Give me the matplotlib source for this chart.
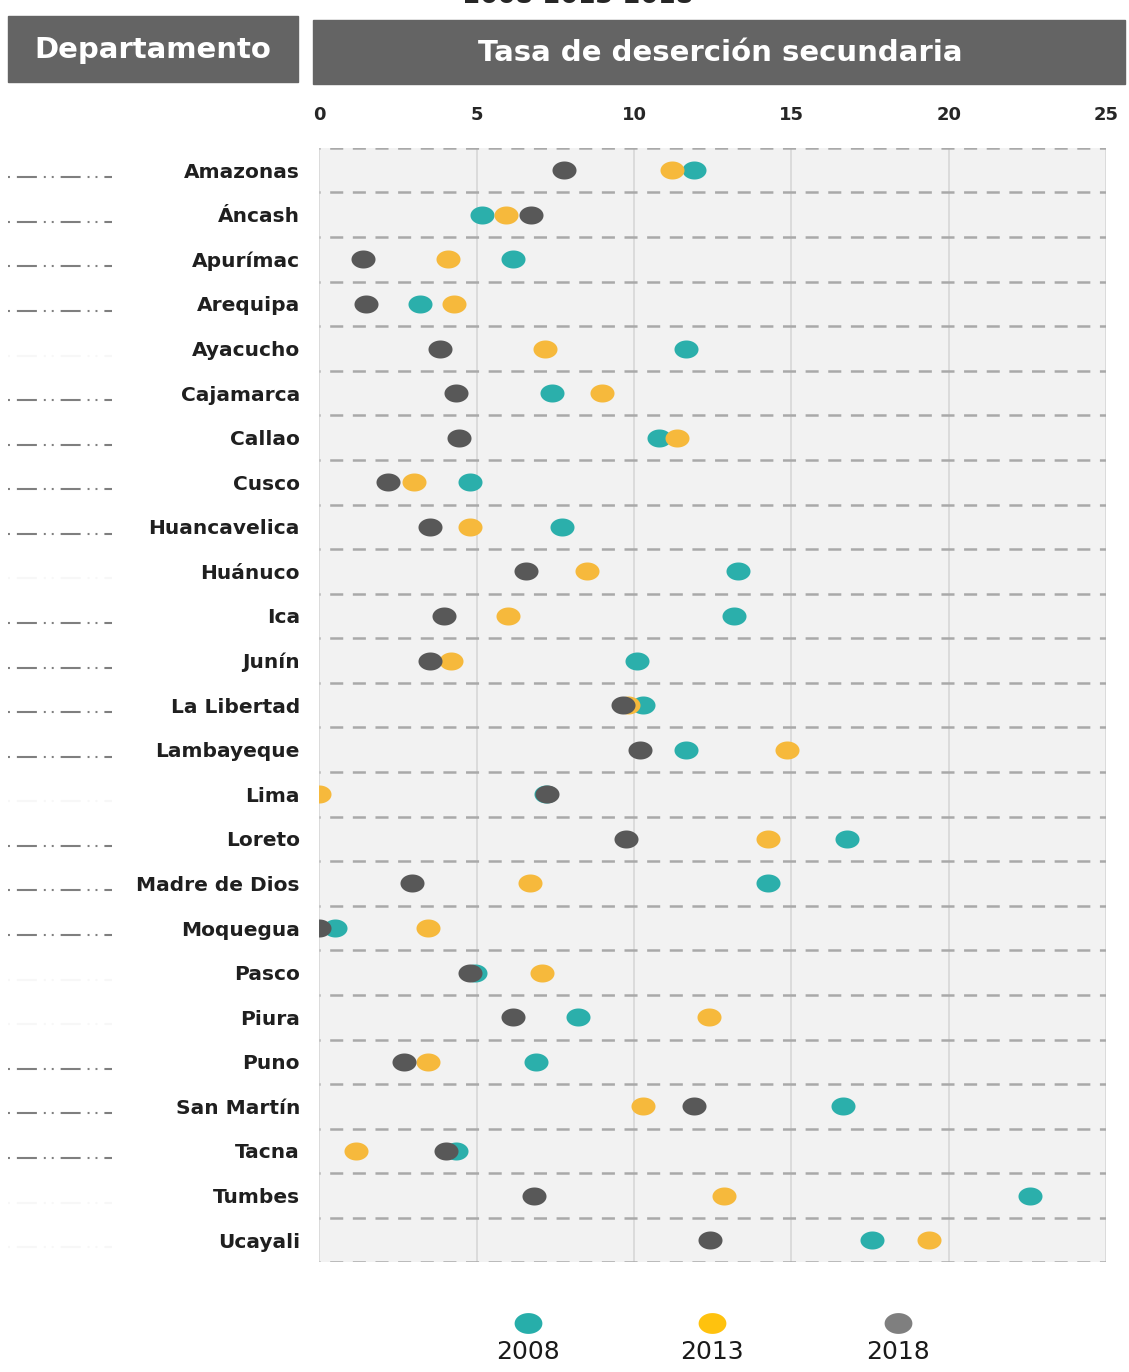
import matplotlib.pyplot as plt
import numpy as np
import matplotlib.transforms as mtransforms
from matplotlib.path import Path
from matplotlib.patches import Rectangle

plt.rcParams['font.family'] = 'DejaVu Sans'
plt.rcParams['lines.scale_dashes'] = False

departamentos = ['Amazonas', 'Áncash', 'Apurímac', 'Arequipa', 'Ayacucho',
                 'Cajamarca', 'Callao', 'Cusco', 'Huancavelica', 'Huánuco',
                 'Ica', 'Junín', 'La Libertad', 'Lambayeque', 'Lima', 'Loreto',
                 'Madre de Dios', 'Moquegua', 'Pasco', 'Piura', 'Puno',
                 'San Martín', 'Tacna', 'Tumbes', 'Ucayali']

tasa_2008 = [11.89, 5.18, 6.16, 3.21, 11.66, 7.39, 10.8, 4.78, 7.7, 13.3,
             13.19, 10.1, 10.3, 11.66, 7.2, 16.76, 14.27, 0.51, 4.95, 8.21,
             6.88, 16.65, 4.34, 22.57, 17.57]
tasa_2013 = [11.2, 5.92, 4.08, 4.28, 7.18, 8.97, 11.36, 3.0, 4.78, 8.5,
             6.0, 4.18, 9.8, 14.87, 0.0, 14.27, 6.68, 3.46, 7.08, 12.38,
             3.46, 10.29, 1.17, 12.86, 19.36]
tasa_2018 = [7.78, 6.72, 1.38, 1.48, 3.82, 4.33, 4.44, 2.19, 3.52, 6.58,
             3.97, 3.52, 9.66, 10.19, 7.23, 9.74, 2.95, 0.0, 4.79, 6.16,
             2.7, 11.92, 4.02, 6.83, 12.42]

anios = ['2008', '2013', '2018']
x_ticks = [0, 5, 10, 15, 20, 25]

# rows whose decorative dash-dot guide is clearly visible on the left
guia_visible = [True, True, True, True, False, True, True, True, True, False,
                True, True, True, True, False, True, True, True, False, False,
                True, True, True, False, False]

col_plot = ['#2BAFAB', '#F6B93C', '#585858']
col_leg = ['#27AEAA', '#FFC20E', '#7F7F7F']

W, H = 1129, 1372
fig = plt.figure(figsize=(W / 100, H / 100), dpi=100)

# elliptical marker (dots are slightly wider than tall)
t = np.linspace(0, 2 * np.pi, 80)
ellipse = Path(np.column_stack([np.cos(t), 0.75 * np.sin(t)]))

top, bottom, left, right = 147.9, 1262.4, 319.4, 1106.0
ax = fig.add_axes([left / W, 1 - bottom / H, (right - left) / W, (bottom - top) / H])
ax.set_facecolor('#F2F2F2')
n = len(departamentos)
ax.set_xlim(0, 25)
ax.set_ylim(n - 0.5, -0.5)
for s in ax.spines.values():
    s.set_visible(False)

for v in x_ticks:
    ax.axvline(v, color='#D9D9D9', lw=1.3, zorder=1)
for i in range(n + 1):
    ax.axhline(i - 0.5, color='#A9A9A9', lw=1.8,
               linestyle=(8.6, (9.4, 6.9)), zorder=2)

ypos = np.arange(n)
for vals, c in zip([tasa_2008, tasa_2013, tasa_2018], col_plot):
    ax.plot(vals, ypos, linestyle='none', marker=ellipse, markersize=17.3,
            color=c, markeredgewidth=0, zorder=3)

ax.xaxis.tick_top()
ax.set_xticks(x_ticks)
ax.set_xticklabels([str(v) for v in x_ticks], fontsize=13, fontweight='bold',
                   color='#262626')
ax.tick_params(axis='x', length=0, pad=17)
ax.set_yticks(ypos)
ax.set_yticklabels(departamentos, fontsize=14.5, fontweight='bold', color='#1F1F1F')
ax.tick_params(axis='y', length=0, pad=14)

# dash-dot guides left of the names
trans = mtransforms.blended_transform_factory(fig.transFigure, ax.transData) + \
    mtransforms.ScaledTranslation(0, -7 / 100, fig.dpi_scale_trans)
for i, vis in enumerate(guia_visible):
    ax.plot([8 / W, 112 / W], [i, i], transform=trans, clip_on=False,
            color='#7F7F7F', lw=1.5, alpha=1.0 if vis else 0.06,
            linestyle=(5.7, (1.4, 4.3, 1.4, 5.0, 14.4, 5.0)))

# overlay in pixel coordinates for headers and legend
lax = fig.add_axes([0, 0, 1, 1])
lax.set_xlim(0, W)
lax.set_ylim(H, 0)
lax.axis('off')

lax.add_patch(Rectangle((8, 16), 290, 66, color='#646464'))
lax.add_patch(Rectangle((313, 20), 812, 64, color='#646464'))
lax.text(153, 50, 'Departamento', ha='center', va='center', color='white',
         fontsize=21, fontweight='bold')
lax.text(720, 53, 'Tasa de deserción secundaria', ha='center', va='center',
         color='white', fontsize=21, fontweight='bold')
# title sits mostly above the top edge, as in the source image
lax.text(578, 3, '2008-2013-2018', ha='center', va='baseline',
         fontsize=18, fontweight='bold', color='#262626')

leg_x = [528, 712, 898]
for xx, lab, c in zip(leg_x, anios, col_leg):
    lax.plot([xx], [1323], linestyle='none', marker=ellipse, markersize=20,
             color=c, markeredgewidth=0)
    lax.text(xx, 1352, lab, ha='center', va='center', fontsize=18,
             color='#1A1A1A')

fig.savefig('out.png', dpi=100)
